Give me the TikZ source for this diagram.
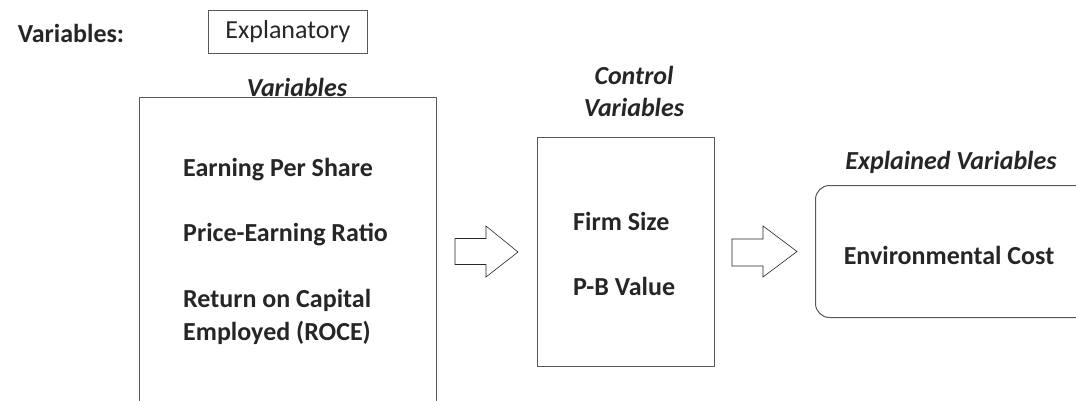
\documentclass[tikz,border=0pt]{standalone}
\usepackage{fontspec}
\setmainfont{Carlito}
\definecolor{txt}{HTML}{262626}
\definecolor{ln}{HTML}{595959}
\begin{document}
\begin{tikzpicture}[x=1pt,y=-1pt,
  boxline/.style={draw=ln,line width=1pt},
  lbl/.style={inner sep=0pt,text=txt,font=\fontsize{26}{32}\selectfont\bfseries},
  ilbl/.style={inner sep=0pt,text=txt,font=\fontsize{26}{32}\selectfont\bfseries\itshape,align=center},
  item/.style={inner sep=0pt,text=txt,anchor=west,font=\fontsize{26}{32}\selectfont\bfseries},
  blockarrow/.style={draw=black!85,fill=white,line width=0.6pt,line join=miter}]
\useasboundingbox (0,0) rectangle (1076,400);
\begin{scope}
\clip (0,0) rectangle (1076,400);
% boxes
\node[boxline,minimum width=297pt,minimum height=320pt,anchor=north west,inner sep=0pt] (expl) at (138.5,97) {};
\node[boxline,minimum width=177pt,minimum height=229pt,anchor=north west,inner sep=0pt] (ctrl) at (537,137) {};
\node[boxline,rounded corners=14pt,minimum width=290pt,minimum height=132pt,anchor=north west,inner sep=0pt] (resp) at (815,185) {};
\end{scope}
% headings
\node[lbl] (vars) at (71,33) {Variables:};
\node[draw=ln,line width=0.8pt,text=txt,font=\fontsize{26}{32}\selectfont,minimum width=159pt,minimum height=43pt,inner sep=0pt] (explbox) at (288,31.5) {Explanatory};
\node[ilbl] (explv) at (297,87) {Variables};
\node[ilbl] (ctrlv) at (634,91) {Control\\Variables};
\node[ilbl] (respv) at (951,162) {Explained Variables};
% items
\node[item] (eps) at (183,170) {Earning Per Share};
\node[item] (per) at (183,235) {Price-Earning Ratio};
\node[item] (roce1) at (183,300) {Return on Capital};
\node[item] (roce2) at (183,333) {Employed (ROCE)};
\node[item] (fs) at (573,221) {Firm Size};
\node[item] (pb) at (573,286) {P-B Value};
\node[lbl] (ec) at (949,255) {Environmental Cost};
% block arrows
\draw[blockarrow] (455,238.5) -- (486,238.5) -- (486,226) -- (518,252) -- (486,277) -- (486,264.5) -- (455,264.5) -- cycle;
\draw[blockarrow] (732,239) -- (763,239) -- (763,226) -- (797,251.5) -- (763,277) -- (763,266) -- (732,266) -- cycle;
\end{tikzpicture}
\end{document}
